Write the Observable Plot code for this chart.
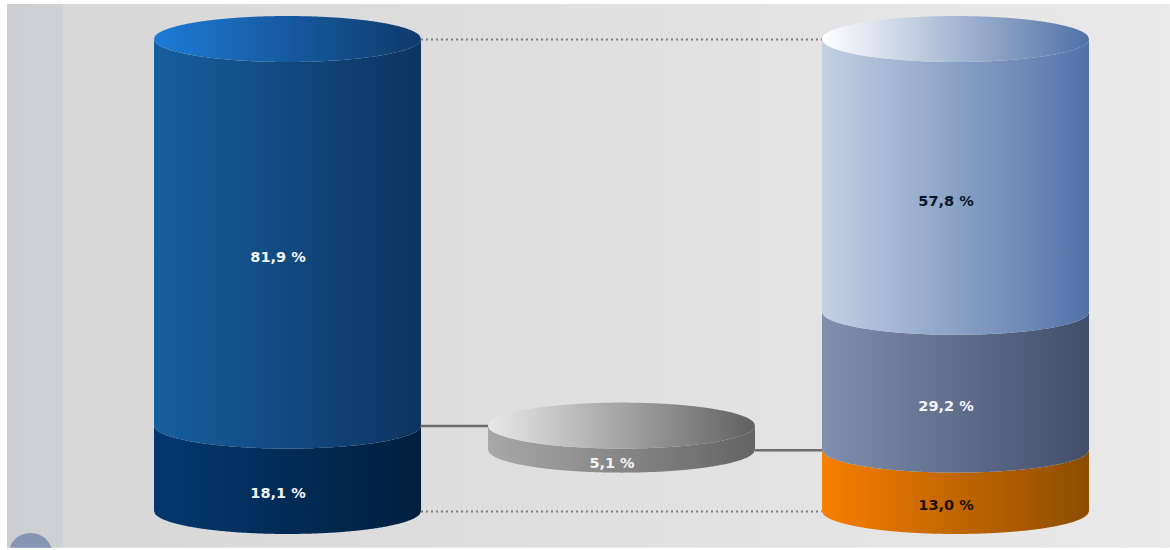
<!DOCTYPE html>
<html>
<head>
<meta charset="utf-8">
<script src="https://cdn.jsdelivr.net/npm/d3@7"></script>
<script src="https://cdn.jsdelivr.net/npm/@observablehq/plot@0.6"></script>
<style>
  html, body { margin: 0; padding: 0; background: #fff; }
  svg { display: block; }
</style>
</head>
<body>
<div id="chart"></div>
<script>
// Shares shown on the three cylinders, in percent, listed bottom to top.
const leftShares = [18.1, 81.9];
const middleShare = [5.1];
const rightShares = [13.0, 29.2, 57.8];

// Horizontal frame of each cylinder, on a pixel-like x scale.
const columns = {
  left: {cx: 287.5, rx: 133.5},
  middle: {cx: 621.5, rx: 133.5},
  right: {cx: 955.5, rx: 133.5}
};
const capDepth = 4.87; // half height of an elliptical cap, in percent units

// Left and right gradient colours per surface.
const palette = {
  blueTop: ["#1d7bd6", "#0e3a69"],
  blueBody: ["#165f9f", "#0d335f"],
  navyBody: ["#03386f", "#011f3e"],
  paleTop: ["#ffffff", "#4f71a7"],
  paleBody: ["#c3d1e4", "#5272a8"],
  slateBody: ["#808fad", "#404e6a"],
  orangeBody: ["#f77f00", "#8c4d00"],
  greyTop: ["#e8e8e8", "#606060"],
  greyBody: ["#a8a8a8", "#646464"],
  wall: ["#d6d6d6", "#e9e9e9"],
  band: ["#cdced1", "#d0d1d3"]
};

const gradients = () => {
  const defs = d3.create("svg:defs");
  for (const [id, [from, to]] of Object.entries(palette)) {
    const g = defs.append("linearGradient").attr("id", id);
    g.append("stop").attr("offset", "0%").attr("stop-color", from);
    g.append("stop").attr("offset", "100%").attr("stop-color", to);
  }
  return defs.node();
};

// Outline samples across a column: arc(t) is the lower half of the cap ellipse.
const ts = d3.range(-1, 1.0001, 1 / 120);
const arc = (t) => capDepth * Math.sqrt(Math.max(0, 1 - t * t));

// A wall segment between two stacked values, bounded above and below by front arcs.
const wall = (col, lo, hi, fill) =>
  Plot.areaY(ts, {
    x: (t) => col.cx + col.rx * t,
    y1: (t) => lo - arc(t),
    y2: (t) => hi - arc(t),
    fill: `url(#${fill})`
  });

// A full elliptical cap sitting on the given value.
const cap = (col, v, fill) =>
  Plot.areaY(ts, {
    x: (t) => col.cx + col.rx * t,
    y1: (t) => v - arc(t),
    y2: (t) => v + arc(t),
    fill: `url(#${fill})`
  });

const label = (col, lo, share, color) =>
  Plot.text([share], {
    x: () => col.cx,
    y: () => lo + share / 2,
    text: (d) => `${d.toFixed(1).replace(".", ",")} %`,
    dx: -10,
    dy: 25,
    fill: color,
    fontSize: 14.5,
    fontWeight: "bold",
    fontFamily: "DejaVu Sans"
  });

const [navy, blue] = leftShares;
const [orange, slate, pale] = rightShares;
const discLo = orange;
const discHi = orange + middleShare[0];
const chartTop = navy + blue;

const chart = Plot.plot({
  width: 1170,
  height: 550,
  margin: 0,
  style: {background: "#fff"},
  x: {domain: [0, 1170], range: [0, 1170], axis: null},
  y: {domain: [0, 100], range: [511, 39], axis: null},
  marks: [
    gradients,
    // backdrop panel and its darker left band, with the blue marker peeking in
    Plot.rect([0], {x1: 7, x2: 1170, y1: -7.8, y2: 107.4, fill: "url(#wall)"}),
    Plot.rect([0], {x1: 7, x2: 63, y1: -7.8, y2: 107.4, fill: "url(#band)"}),
    Plot.dot([0], {x: 30, y: -9.2, r: 22, fill: "#8496b4"}),
    Plot.rect([0], {x1: 0, x2: 1170, y1: -8.3, y2: -7.8, fill: "#fff"}),

    // dotted guides between the outer cylinders
    Plot.ruleY([0, chartTop], {
      x1: 421, x2: 822, stroke: "#7d7d7d", strokeWidth: 2, strokeDasharray: "2 3"
    }),
    // solid connectors to the middle disc
    Plot.ruleY([navy], {x1: 421, x2: 488, stroke: "#6e6e6e", strokeWidth: 2.5}),
    Plot.ruleY([discLo], {x1: 755, x2: 822, stroke: "#6e6e6e", strokeWidth: 2.5}),

    // left cylinder
    wall(columns.left, 0, navy, "navyBody"),
    wall(columns.left, navy, chartTop, "blueBody"),
    cap(columns.left, chartTop, "blueTop"),

    // middle disc
    wall(columns.middle, discLo, discHi, "greyBody"),
    cap(columns.middle, discHi, "greyTop"),

    // right cylinder
    wall(columns.right, 0, orange, "orangeBody"),
    wall(columns.right, orange, orange + slate, "slateBody"),
    wall(columns.right, orange + slate, chartTop, "paleBody"),
    cap(columns.right, chartTop, "paleTop"),

    // share labels
    label(columns.left, 0, navy, "#f2f5fa"),
    label(columns.left, navy, blue, "#f2f5fa"),
    label(columns.middle, discLo, middleShare[0], "#f4f4f4"),
    label(columns.right, 0, orange, "#201005"),
    label(columns.right, orange, slate, "#f2f5fa"),
    label(columns.right, orange + slate, pale, "#0c1526")
  ]
});

document.getElementById("chart").append(chart);
</script>
</body>
</html>
